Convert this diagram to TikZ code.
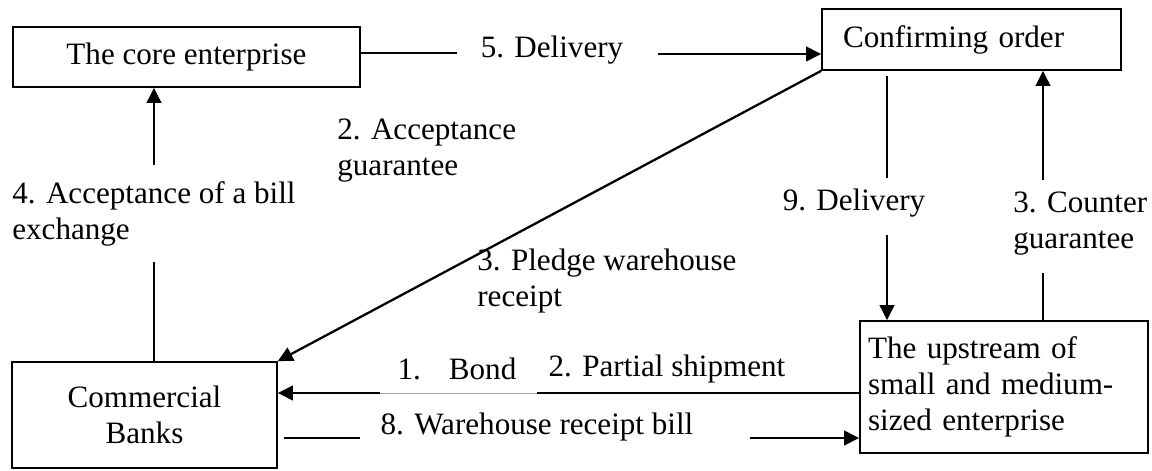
\documentclass[tikz,border=0pt]{standalone}
\usepackage{fontspec}
\setmainfont{Liberation Serif}
\usepackage{tikz}
\usetikzlibrary{calc,shapes,positioning}
\usetikzlibrary{arrows.meta}
\tikzset{>={Triangle[width=2.9mm,length=3mm]}}

\begin{document}
\begin{tikzpicture}[x=0.02cm, y=-0.02cm, font=\fontsize{17.7}{20.5}\selectfont]
          \tikzstyle{bnode} = [draw, line width=0.95pt, inner sep=0pt, align=center]
          \tikzstyle{lnode} = [inner sep=0pt, align=left]
          \tikzstyle{link} = [line width=1.3pt]
          \useasboundingbox (0,0) rectangle (1152,470);

          % boxes
          \node[bnode, minimum width=6.94cm, minimum height=1.2cm] (core) at (186.5,57) {The core enterprise};
          \node[bnode, align=left, text width=5.14cm, inner xsep=0.42cm, minimum height=1.22cm] (confirm) at (971.5,39.5) {Confirming order};
          \node[bnode, minimum width=5.3cm, minimum height=2.12cm] (banks) at (144.5,415) {Commercial\\Banks};
          \node[bnode, align=left, text width=5.44cm, inner xsep=0.16cm, minimum height=2.64cm] (upstream) at (1004,387) {The upstream of\\small and medium-\\sized enterprise};

          % labels
          \node[lnode] (l5) at (552,50) {5. Delivery};
          \node[lnode, anchor=west] (l2a) at (337,151) {2. Acceptance\\guarantee};
          \node[lnode, anchor=west] (l4) at (12,214) {4. Acceptance of a bill\\exchange};
          \node[lnode, anchor=west] (l3p) at (477,281) {3. Pledge warehouse\\receipt};
          \node[lnode] (l9) at (854,203) {9. Delivery};
          \node[lnode, anchor=west] (l3c) at (1013,224) {3. Counter\\guarantee};
          \node[lnode] (l1) at (457,369) {1.\hspace{0.9em}Bond};
          \node[lnode] (l2p) at (667,369) {2. Partial shipment};
          \node[lnode] (l8) at (537,427) {8. Warehouse receipt bill};

          % free ends
          \coordinate (d5a) at (457,53);
          \coordinate (d5b) at (658,54);
          \coordinate (a4a) at (154,165);
          \coordinate (a4b) at (154,262);
          \coordinate (d9a) at (887,178);
          \coordinate (d9b) at (887,235);
          \coordinate (c3a) at (1043,180);
          \coordinate (c3b) at (1043,273);
          \coordinate (p2a) at (380,393);
          \coordinate (p2b) at (537,393);
          \coordinate (w8a) at (360,438);
          \coordinate (w8b) at (750,438);

          \draw[link] (core.east |- d5a) -- (d5a);
          \draw[link, ->] (d5b) -- (confirm.west |- d5b);
          \draw[link, ->] (confirm.south west) -- (banks.north east);
          \draw[link, ->] (a4a) -- (core.south -| a4a);
          \draw[link] (a4b) -- (banks.north -| a4b);
          \draw[link] ($(confirm.south -| d9a)+(0,5)$) -- (d9a);
          \draw[link, ->] (d9b) -- (upstream.north -| d9b);
          \draw[link, ->] (c3a) -- (confirm.south -| c3a);
          \draw[link] (c3b) -- (upstream.north -| c3b);
          \draw[link, ->] (p2a) -- (banks.east |- p2a);
          \draw[gray!70, line width=0.4pt] (p2a) -- (p2b);
          \draw[link] (p2b) -- (upstream.west |- p2b);
          \draw[link] ($(banks.east |- w8a)+(6,0)$) -- (w8a);
          \draw[link, ->] (w8b) -- (upstream.west |- w8b);
        \end{tikzpicture}
\end{document}
